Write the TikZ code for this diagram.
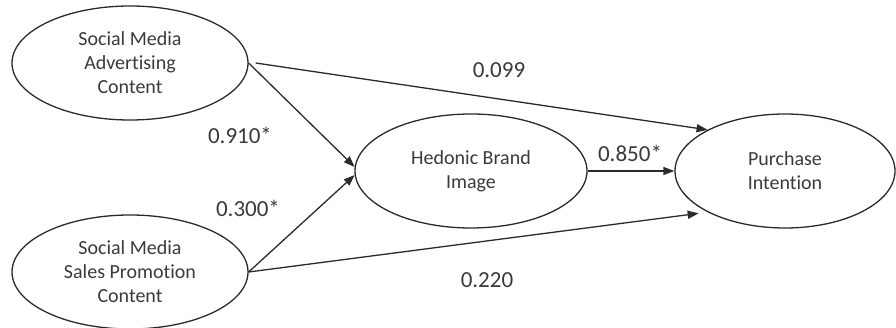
\documentclass[tikz,border=0pt]{standalone}
\usepackage{fontspec}
\setmainfont[Ligatures={NoCommon},RawFeature={-liga;-clig;-dlig}]{Carlito}
\usetikzlibrary{shapes.geometric,arrows.meta}
\definecolor{txt}{HTML}{3A3A3A}
\definecolor{ln}{HTML}{2A2A2A}
\tikzset{
  latent/.style={ellipse,draw=ln,line width=1.3pt,inner sep=0pt,text=txt,align=center,
    font=\fontsize{20}{24}\selectfont},
  path/.style={draw=ln,line width=1.3pt,-{Triangle[length=11pt,width=8pt]}},
  coef/.style={text=txt,font=\fontsize{23}{27}\selectfont,inner sep=0pt}
}
\begin{document}
\begin{tikzpicture}[x=1pt,y=-1pt]
\useasboundingbox (0,0) rectangle (896,328);
\node[latent,minimum width=236pt,minimum height=114pt] (sma) at (130,63) {Social Media\\Advertising\\Content};
\node[latent,minimum width=236pt,minimum height=114pt] (smsp) at (130,272) {Social Media\\Sales Promotion\\Content};
\node[latent,minimum width=232pt,minimum height=114pt] (hbi) at (471,171) {Hedonic Brand\\Image};
\node[latent,minimum width=220pt,minimum height=114pt] (pi) at (785,171) {Purchase\\Intention};
\draw[path] ([xshift=7pt]sma.east) -- (pi.152);
\draw[path] (sma.east) -- (hbi.178);
\draw[path] (smsp.east) -- (hbi.182);
\draw[path,shorten >=9pt] (smsp.east) -- (pi.208);
\draw[path] (hbi.east) -- (pi.west);
\node[coef] (c1) at (499,70) {0.099};
\node[coef] (c2) at (240,135) {0.910*};
\node[coef] (c3) at (630,153) {0.850*};
\node[coef] (c4) at (248,208) {0.300*};
\node[coef] (c5) at (487,280) {0.220};
\end{tikzpicture}
\end{document}
